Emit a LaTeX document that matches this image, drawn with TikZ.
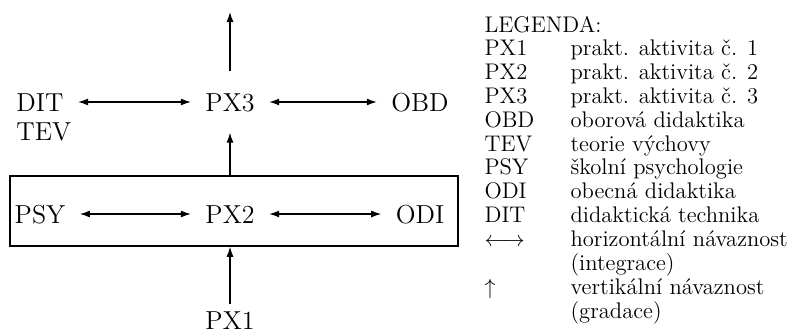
\documentclass[tikz,border=0pt]{standalone}
\usetikzlibrary{arrows.meta,positioning}

\begin{document}
\begin{tikzpicture} [x=0.5pt,y=-0.5pt,->,node distance=95pt,line width=0.6pt,
  >={Latex[length=5pt,width=3.5pt]},
  lbl/.style={font=\fontsize{13}{15}\selectfont, text height=9pt, text depth=0pt,
    inner xsep=7pt, inner ysep=10.5pt}]

  \useasboundingbox (0,0) rectangle (796,333);

  \node[draw, line width=0.8pt, minimum width=224pt, minimum height=35pt, inner sep=0pt] (box) at (234,211) {};

  \node[lbl] (PX3) at (230,102) {PX3};
  \node[lbl] (DIT) [left of=PX3] {DIT};
  \node[lbl] (OBD) [right of=PX3] {OBD};
  \node[lbl, anchor=base west] (TEV) at ([yshift=-14.5pt]DIT.base west) {TEV};

  \node[lbl] (PX2) at (230,214) {PX2};
  \node[lbl] (PSY) [left of=PX2] {PSY};
  \node[lbl] (ODI) [right of=PX2] {ODI};

  \node[lbl, inner ysep=3pt] (PX1) at (230,320) {PX1};
  \coordinate (top) at (230,12);

  \path
    (DIT) edge [<->] (PX3)
    (PX3) edge [<->] (OBD)
    (PSY) edge [<->] (PX2)
    (PX2) edge [<->] (ODI)
    (PX3) edge (top)
    (PX2 |- box.north) edge (PX3)
    (PX1) edge (PX1 |- box.south);

  \node[anchor=base west, inner sep=0pt, font=\fontsize{11.3}{11.9}\selectfont] (legend) at (484,32) {%
    \begin{tabular}[t]{@{}p{43pt}@{}l@{}}
      \multicolumn{2}{@{}l@{}}{LEGENDA:}\\
      PX1 & prakt. aktivita č. 1\\
      PX2 & prakt. aktivita č. 2\\
      PX3 & prakt. aktivita č. 3\\
      OBD & oborová didaktika\\
      TEV & teorie výchovy\\
      PSY & školní psychologie\\
      ODI & obecná didaktika\\
      DIT & didaktická technika\\
      $\longleftrightarrow$ & horizontální návaznost\\
          & (integrace)\\
      $\uparrow$ & vertikální návaznost\\
          & (gradace)
    \end{tabular}};

\end{tikzpicture}
\end{document}
